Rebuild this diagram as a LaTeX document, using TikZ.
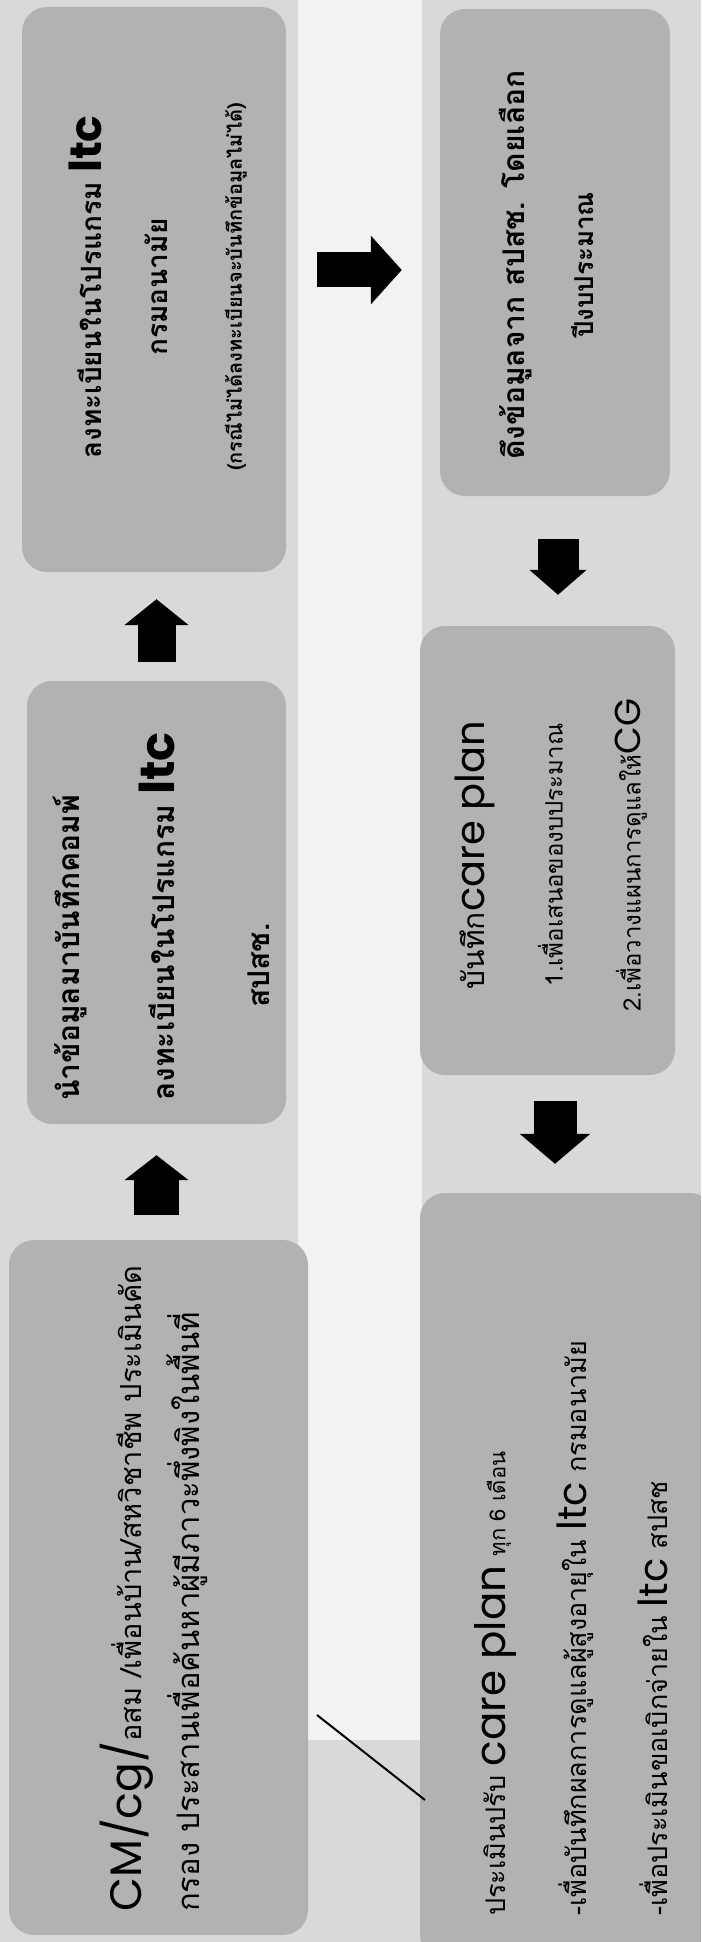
\documentclass[tikz,border=0pt]{standalone}
\usepackage{fontspec}
\newfontfamily\thaifont[Script=Thai]{Loma}
\newfontfamily\enfont{Poppins}
\usetikzlibrary{arrows.meta}

\newcommand{\en}[2]{{\enfont\fontsize{#1}{#1}\selectfont #2}}

\begin{document}
\begin{tikzpicture}[x=1pt, y=-1pt,
    box/.style={fill=gray!60, rounded corners=25pt, inner sep=0pt},
    txt/.style={rotate=90, inner sep=0pt},
    blockarrow/.style n args={3}{line width=#1, -{Triangle[width=#2, length=#3]}}]

\useasboundingbox (0,0) rectangle (701,1942);
\clip (0,0) rectangle (701,1942);
\fill[gray!30] (0,0) rectangle (701,1942);
\fill[gray!10] (298,0) rectangle (422,1740);


% left column
\node[box, minimum width=299pt, minimum height=695pt] (b1) at (158.5,1587.5) {};
\node[box, minimum width=259pt, minimum height=443pt] (b2) at (156.5,902.5) {};
\node[box, minimum width=264pt, minimum height=565pt] (b3) at (154,289.5) {};

% right column
\node[box, minimum width=230pt, minimum height=487pt] (b4) at (555,252.5) {};
\node[box, minimum width=255pt, minimum height=449pt] (b5) at (547.5,850.5) {};
\node[box, minimum width=295pt, minimum height=767pt] (b6) at (567.5,1576.5) {};


\node[txt, anchor=west, align=left, font=\thaifont\fontsize{29}{58}\selectfont] (t1) at (154,1912)
    {\en{44}{CM/cg/}อสม /เพื่อนบ้าน/สหวิชาชีพ ประเมินคัด\\{\fontsize{31}{58}\selectfont กรอง ประสานเพื่อค้นหาผู้มีภาวะพึ่งพิงในพื้นที่}};

\node[txt, anchor=west, align=left, font=\thaifont\bfseries\fontsize{30}{95}\selectfont] (t2) at (161,1101)
    {นำข้อมูลมาบันทึกคอมพ์\\ลงทะเบียนในโปรแกรม \en{48}{ltc}\\\hspace*{93pt}สปสช.};

\node[txt, align=center, font=\thaifont\bfseries\fontsize{28}{66}\selectfont] (t3) at (158,287)
    {ลงทะเบียนในโปรแกรม \en{44}{ltc}\\กรมอนามัย\\[8pt]{\fontsize{20}{24}\selectfont(กรณีไม่ได้ลงทะเบียนจะบันทึกข้อมูลไม่ได้)}};

\node[txt, align=center, font=\thaifont\bfseries\fontsize{30}{69}\selectfont] (t4) at (546,265)
    {ดึงข้อมูลจาก สปสช. โดยเลือก\\{\fontsize{26}{26}\selectfont ปีงบประมาณ}};

\node[txt, align=center, font=\thaifont\fontsize{24}{78}\selectfont] (t5) at (551,855)
    {{\fontsize{30}{30}\selectfont บันทึก}\en{40}{care plan}\\1.เพื่อเสนอของบประมาณ\\2.เพื่อวางแผนการดูแลให้\en{36}{CG}};

\node[txt, anchor=west, align=left, font=\thaifont\fontsize{27}{81}\selectfont] (t6) at (571,1916)
    {ประเมินปรับ \en{42}{care plan} {\fontsize{22}{22}\selectfont ทุก 6 เดือน}\\-เพื่อบันทึกผลการดูแลผู้สูงอายุใน \en{40}{ltc} กรมอนามัย\\-เพื่อประเมินขอเบิกจ่ายใน \en{40}{ltc} สปสช};


% arrows
\coordinate (a45) at ([xshift=3pt]b4.south);
\coordinate (a56) at ([xshift=7.5pt]b5.south);

\draw[blockarrow={45pt}{63pt}{25pt}, shorten <=25pt, shorten >=31pt] (b1.north -| b2) -- (b2.south);
\draw[blockarrow={38pt}{63pt}{26pt}, shorten <=19pt, shorten >=27pt] (b2.north) -- (b2.north |- b3.south);
\draw[blockarrow={35pt}{67pt}{31pt}, shorten <=31pt, shorten >=38pt] ([yshift=19.5pt]b3.east) -- ([yshift=-17.5pt]b4.west);
\draw[blockarrow={41pt}{56pt}{25pt}, shorten <=43pt, shorten >=31pt] (a45) -- (a45 |- b5.north);
\draw[blockarrow={43pt}{69pt}{30pt}, shorten <=26pt, shorten >=29pt] (a56) -- (a56 |- b6.north);

\draw[line width=2pt] (317,1715) -- (425,1800);

\end{tikzpicture}
\end{document}
